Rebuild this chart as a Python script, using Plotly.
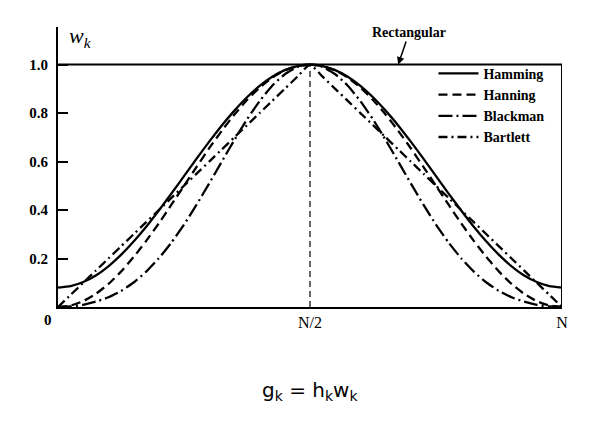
import plotly.graph_objects as go

# sample positions k/N
k = [0.000, 0.025, 0.050, 0.075, 0.100, 0.125, 0.150, 0.175, 0.200, 0.225,
     0.250, 0.275, 0.300, 0.325, 0.350, 0.375, 0.400, 0.425, 0.450, 0.475,
     0.500, 0.525, 0.550, 0.575, 0.600, 0.625, 0.650, 0.675, 0.700, 0.725,
     0.750, 0.775, 0.800, 0.825, 0.850, 0.875, 0.900, 0.925, 0.950, 0.975,
     1.000]

hamming = [0.080, 0.086, 0.103, 0.130, 0.168, 0.215, 0.270, 0.331, 0.398, 0.468,
           0.540, 0.612, 0.682, 0.749, 0.810, 0.865, 0.912, 0.950, 0.977, 0.994,
           1.000, 0.994, 0.977, 0.950, 0.912, 0.865, 0.810, 0.749, 0.682, 0.612,
           0.540, 0.468, 0.398, 0.331, 0.270, 0.215, 0.168, 0.130, 0.103, 0.086,
           0.080]
hanning = [0.000, 0.006, 0.024, 0.054, 0.095, 0.146, 0.206, 0.273, 0.345, 0.422,
           0.500, 0.578, 0.655, 0.727, 0.794, 0.854, 0.905, 0.946, 0.976, 0.994,
           1.000, 0.994, 0.976, 0.946, 0.905, 0.854, 0.794, 0.727, 0.655, 0.578,
           0.500, 0.422, 0.345, 0.273, 0.206, 0.146, 0.095, 0.054, 0.024, 0.006,
           0.000]
blackman = [0.000, 0.002, 0.009, 0.022, 0.040, 0.066, 0.101, 0.146, 0.201, 0.266,
            0.340, 0.422, 0.510, 0.600, 0.689, 0.774, 0.849, 0.913, 0.960, 0.990,
            1.000, 0.990, 0.960, 0.913, 0.849, 0.774, 0.689, 0.600, 0.510, 0.422,
            0.340, 0.266, 0.201, 0.146, 0.101, 0.066, 0.040, 0.022, 0.009, 0.002,
            0.000]
bartlett = [0.00, 0.05, 0.10, 0.15, 0.20, 0.25, 0.30, 0.35, 0.40, 0.45,
            0.50, 0.55, 0.60, 0.65, 0.70, 0.75, 0.80, 0.85, 0.90, 0.95,
            1.00, 0.95, 0.90, 0.85, 0.80, 0.75, 0.70, 0.65, 0.60, 0.55,
            0.50, 0.45, 0.40, 0.35, 0.30, 0.25, 0.20, 0.15, 0.10, 0.05,
            0.00]

rect_x = [0.0, 1.0, 1.0]
rect_y = [1.0, 1.0, 0.0]

center_x = [0.5, 0.5]
center_y = [0.0, 1.0]

y_ticks = [0.2, 0.4, 0.6, 0.8, 1.0]
y_tick_labels = ["0.2", "0.4", "0.6", "0.8", "1.0"]
x_ticks = [0.5, 1.0]
x_tick_labels = ["N/2", "N"]

serif = "Liberation Serif"

fig = go.Figure()

fig.add_trace(go.Scatter(x=rect_x, y=rect_y, mode="lines", showlegend=False,
                         line=dict(color="black", width=2), hoverinfo="skip"))
fig.add_trace(go.Scatter(x=center_x, y=center_y, mode="lines", showlegend=False,
                         line=dict(color="black", width=1.2, dash="6px,4px"),
                         hoverinfo="skip"))

series = [
    ("Hamming", hamming, "solid"),
    ("Hanning", hanning, "9px,5px"),
    ("Blackman", blackman, "14px,4px,2px,4px"),
    ("Bartlett", bartlett, "9px,4px,2px,4px"),
]
for name, vals, dash in series:
    fig.add_trace(go.Scatter(x=k, y=vals, mode="lines", name=name,
                             line=dict(color="black", width=2.3, dash=dash,
                                       shape="spline", smoothing=0.5)))

fig.update_layout(
    width=609, height=432,
    margin=dict(l=50, r=55, t=19, b=133),
    paper_bgcolor="white", plot_bgcolor="white",
    showlegend=True,
    legend=dict(x=0.745, y=0.89, xanchor="left", yanchor="top",
                bgcolor="rgba(0,0,0,0)",
                font=dict(family=serif, size=14, color="black", weight="bold"),
                tracegroupgap=0, itemwidth=40),
    xaxis=dict(range=[0, 1], showgrid=False, zeroline=False,
               showline=True, linecolor="black", linewidth=2,
               tickvals=x_ticks, ticktext=x_tick_labels, ticks="",
               tickfont=dict(family=serif, size=16, color="black")),
    yaxis=dict(range=[0, 1.155], showgrid=False, zeroline=False,
               showline=True, linecolor="black", linewidth=2,
               tickvals=y_ticks, ticktext=y_tick_labels,
               ticks="inside", ticklen=10, tickwidth=1.5, tickcolor="black",
               ticklabelstandoff=5,
               tickfont=dict(family=serif, size=15, color="black", weight="bold")),
)

fig.add_annotation(x=0.018, y=1.0, xref="x", yref="paper",
                   text="<i>w</i><sub><i>k</i></sub>", showarrow=False,
                   xanchor="left", yanchor="top", yshift=6,
                   font=dict(family=serif, size=22, color="black"))
fig.add_annotation(x=0, y=0, xref="x", yref="y", text="<b>0</b>", showarrow=False,
                   xanchor="right", yanchor="top", xshift=-4, yshift=-3,
                   font=dict(family=serif, size=15, color="black"))
fig.add_annotation(x=0.675, y=1.0, xref="x", yref="y", text="<b>Rectangular</b>",
                   showarrow=True, arrowhead=2, arrowsize=1, arrowwidth=1.5,
                   arrowcolor="black", ax=11, ay=-32,
                   font=dict(family=serif, size=14, color="black"))
fig.add_annotation(x=0.5, y=-0.30, xref="paper", yref="paper",
                   text="g<sub>k</sub> = h<sub>k</sub>w<sub>k</sub>", showarrow=False,
                   xanchor="center", yanchor="middle",
                   font=dict(family="DejaVu Sans", size=20, color="black"))

fig.write_html("out.html")
